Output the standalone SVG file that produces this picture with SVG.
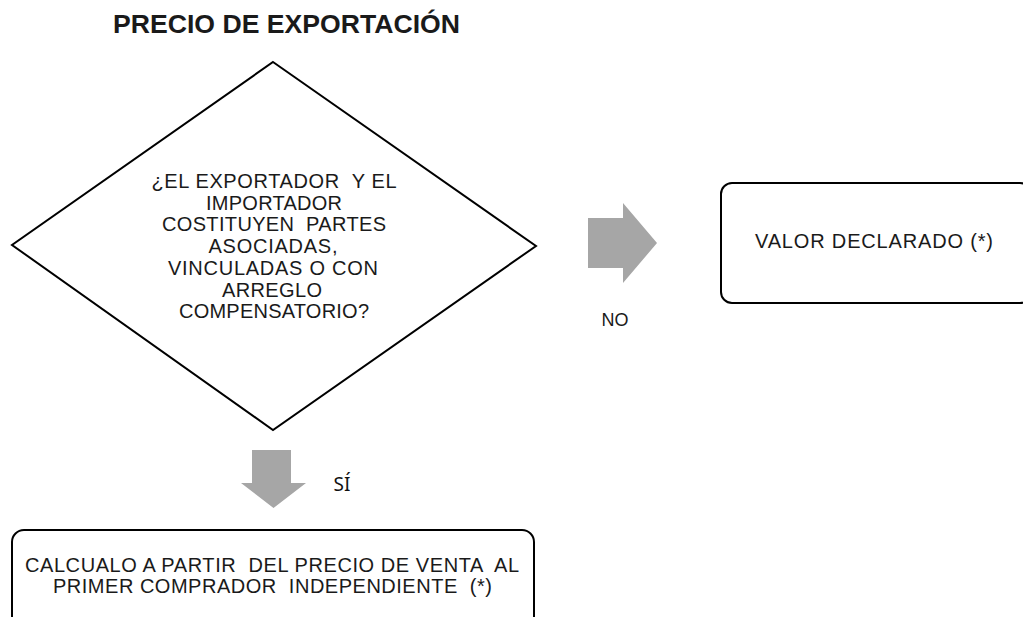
<svg xmlns="http://www.w3.org/2000/svg" width="1023" height="617" viewBox="0 0 1023 617">
<style>
.t{font-family:"Liberation Sans",Arial,sans-serif;fill:#1a1a1a;}
.pre{white-space:pre;}
.box{fill:#fff;stroke:#000;stroke-width:2;}
.arr{fill:#a6a6a6;stroke:none;}
</style>
<rect width="1023" height="617" fill="#fff"/>
<text class="t" x="286.5" y="33" font-size="25" font-weight="bold" text-anchor="middle" textLength="347" lengthAdjust="spacingAndGlyphs" fill="#000">PRECIO DE EXPORTACIÓN</text>
<g id="decision">
<polygon class="box" points="273,62 536,246 273,430 12,245"/>
<g class="t" font-size="20" text-anchor="middle">
<text class="pre" x="274" y="188" textLength="245">¿EL EXPORTADOR  Y EL</text>
<text x="274" y="209.7" textLength="136">IMPORTADOR</text>
<text class="pre" x="274" y="231.4" textLength="224">COSTITUYEN  PARTES</text>
<text x="273" y="253.1" textLength="129">ASOCIADAS,</text>
<text x="273" y="274.8" textLength="210">VINCULADAS O CON</text>
<text x="272" y="296.5" textLength="100">ARREGLO</text>
<text x="274" y="318.2" textLength="190">COMPENSATORIO?</text>
</g>
</g>
<g id="valor">
<rect class="box" x="721" y="183" width="310" height="120" rx="11"/>
<text class="t" x="874" y="248" font-size="20" text-anchor="middle" textLength="238">VALOR DECLARADO (*)</text>
</g>
<g id="calculo">
<rect class="box" x="12" y="530" width="522" height="110" rx="12"/>
<g class="t" font-size="20" text-anchor="middle">
<text class="pre" x="272" y="572" textLength="494">CALCUALO A PARTIR  DEL PRECIO DE VENTA  AL</text>
<text class="pre" x="272.5" y="593" textLength="439">PRIMER COMPRADOR  INDEPENDIENTE  (*)</text>
</g>
</g>
<g id="connectors">
<polygon class="arr" points="588,218 623,218 623,203 657,243 623,283 623,268 588,268"/>
<text class="t" x="615" y="326" font-size="18" text-anchor="middle">NO</text>
<polygon class="arr" points="252,450 291,450 291,483 306,483 273.5,508 241,483 252,483"/>
<text x="342" y="491" font-family="'Noto Sans','Open Sans',sans-serif" font-size="19" text-anchor="middle" fill="#111">SÍ</text>
</g>
</svg>
